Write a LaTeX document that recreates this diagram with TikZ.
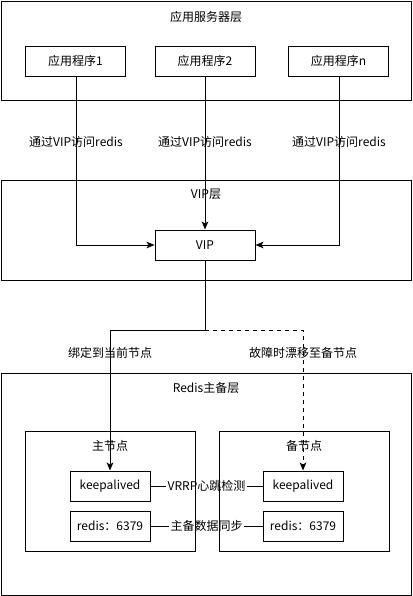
\documentclass[tikz,border=0pt]{standalone}
\usepackage{fontspec}
\setmainfont{Noto Sans CJK SC}
\usetikzlibrary{arrows.meta}
\begin{document}
\begin{tikzpicture}[x=0.75pt,y=-0.75pt,
  every node/.style={font=\fontsize{9}{11}\selectfont, inner sep=0pt},
  layer/.style={draw, line width=0.75pt, anchor=north west},
  box/.style={draw, line width=0.75pt, minimum width=75pt, minimum height=22.5pt, fill=white},
  sbox/.style={draw, line width=0.75pt, minimum width=60pt, minimum height=22.5pt, fill=white},
  conn/.style={line width=0.75pt, -{Stealth[length=6pt,width=5pt,inset=1.5pt]}},
  lbl/.style={},
  blbl/.style={fill=white, inner sep=1pt}]
\useasboundingbox (0,0) rectangle (412,596);
% layers
\draw[line width=0.75pt] (1,1) rectangle (411,100);
\node (t1) at (206,17) {应用服务器层};
\draw[line width=0.75pt] (1,180) rectangle (411,280);
\node (t2) at (206,194) {VIP层};
\draw[line width=0.75pt] (1,373) rectangle (411,595);
\node (t3) at (206,388) {Redis主备层};
% app nodes
\node[box] (a1) at (75.5,61) {应用程序1};
\node[box] (a2) at (205,61) {应用程序2};
\node[box] (an) at (338.5,61) {应用程序n};
\node[box] (vip) at (205,245) {VIP};
% redis nodes
\node[sbox] (k1) at (110,486) {keepalived};
\node[sbox] (r1) at (110,526) {redis：6379};
\node[sbox] (k2) at (303,486) {keepalived};
\node[sbox] (r2) at (303,526) {redis：6379};
% connectors
\coordinate (c1) at (76,245);
\coordinate (cn) at (339,245);
\coordinate (s0) at (205,330);
\coordinate (s1) at (110,330);
\coordinate (s2) at (303,330);
\draw[conn] (a1.south -| c1) -- (c1) -- (vip.west);
\draw[conn] (a2.south) -- (vip.north);
\draw[conn] (an.south -| cn) -- (cn) -- (vip.east);
\node[lbl] (l1) at (76,142) {通过VIP访问redis};
\node[lbl] (l2) at (205,142) {通过VIP访问redis};
\node[lbl] (l3) at (339,142) {通过VIP访问redis};
\draw[conn] (vip.south) -- (s0) -- (s1) -- (k1.north);
\draw[conn, dashed, dash pattern=on 3pt off 3pt] (s0) -- (s2) -- (k2.north);
\node[lbl] (l4) at (110,353) {绑定到当前节点};
\node[lbl] (l5) at (303,353) {故障时漂移至备节点};
\draw[line width=0.75pt] (k1.east) -- node[blbl] (l6) {VRRP心跳检测} (k2.west);
\draw[line width=0.75pt] (r1.east) -- node[blbl] (l7) {主备数据同步} (r2.west);
% groups (drawn on top)
\draw[line width=0.75pt] (25,431) rectangle (195,551);
\node (g1) at (110,446) {主节点};
\draw[line width=0.75pt] (219,431) rectangle (389,551);
\node (g2) at (304,446) {备节点};
\end{tikzpicture}
\end{document}
